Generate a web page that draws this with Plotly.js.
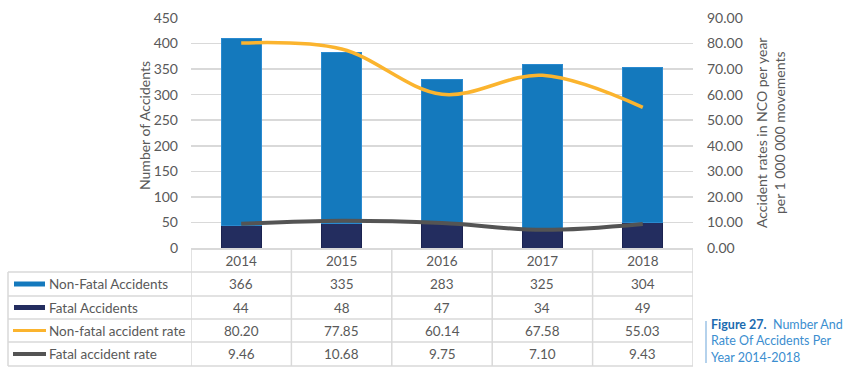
<!DOCTYPE html>
<html>
<head>
<meta charset="utf-8">
<script src="https://cdn.plot.ly/plotly-3.0.1.min.js"></script>
<style>html,body{margin:0;padding:0;background:#fff;}#chart{width:850px;height:373px;}</style>
</head>
<body>
<div id="chart"></div>
<script>
const years = ['2014', '2015', '2016', '2017', '2018'];
const nonFatal = [366, 335, 283, 325, 304];
const fatal = [44, 48, 47, 34, 49];
const nonFatalRate = [80.20, 77.85, 60.14, 67.58, 55.03];
const fatalRate = [9.46, 10.68, 9.75, 7.10, 9.43];
const seriesNames = ['Non-Fatal Accidents', 'Fatal Accidents', 'Non-fatal accident rate', 'Fatal accident rate'];

const W = 850, H = 373;
const px = x => x / W;
const py = y => 1 - y / H;

const cBlue = '#1479BD', cNavy = '#232D5F', cYellow = '#FBB42E', cGrey = '#545454';
const grid = '#D9D9D9';
const txt = '#595959';
const font = 'Lato, "Liberation Sans", sans-serif';

const traces = [
  {type: 'bar', x: years, y: fatal, name: seriesNames[1], marker: {color: cNavy, line: {color: '#1B2350', width: 1}}, width: 0.4, hoverinfo: 'none'},
  {type: 'bar', x: years, y: nonFatal, name: seriesNames[0], marker: {color: cBlue, line: {color: '#2A8AD0', width: 1}}, width: 0.4, hoverinfo: 'none'},
  {type: 'scatter', mode: 'lines', x: years, y: nonFatalRate, yaxis: 'y2', name: seriesNames[2], line: {color: cYellow, width: 3.5, shape: 'spline', smoothing: 1}, hoverinfo: 'none'},
  {type: 'scatter', mode: 'lines', x: years, y: fatalRate, yaxis: 'y2', name: seriesNames[3], line: {color: cGrey, width: 4, shape: 'spline', smoothing: 1}, hoverinfo: 'none'}
];

// table geometry (rows)
const headerTop = 248;
const rowLines = [272, 296, 319, 342, 366];
const rowCenters = [284, 307.5, 330.5, 354];
const tableLeft = 8;

const shapes = [];
const annotations = [];

rowLines.forEach(y => shapes.push({type: 'line', xref: 'paper', yref: 'paper', x0: px(tableLeft), x1: px(693), y0: py(y), y1: py(y), line: {color: grid, width: 1.5}}));
for (let i = 0; i <= years.length; i++) {
  shapes.push({type: 'line', xref: 'x', yref: 'paper', x0: i - 0.5, x1: i - 0.5, y0: py(headerTop), y1: py(366), line: {color: grid, width: 1.5}});
}
shapes.push({type: 'line', xref: 'paper', yref: 'paper', x0: px(tableLeft), x1: px(tableLeft), y0: py(272), y1: py(366), line: {color: grid, width: 1.5}});

// legend keys
const keyY = rowCenters;
shapes.push({type: 'rect', xref: 'paper', yref: 'paper', x0: px(14), x1: px(45), y0: py(keyY[0] - 2.5), y1: py(keyY[0] + 2.5), fillcolor: cBlue, line: {width: 0}});
shapes.push({type: 'rect', xref: 'paper', yref: 'paper', x0: px(14), x1: px(45), y0: py(keyY[1] - 2.5), y1: py(keyY[1] + 2.5), fillcolor: cNavy, line: {width: 0}});
shapes.push({type: 'line', xref: 'paper', yref: 'paper', x0: px(13), x1: px(46), y0: py(keyY[2]), y1: py(keyY[2]), line: {color: cYellow, width: 3}});
shapes.push({type: 'line', xref: 'paper', yref: 'paper', x0: px(13), x1: px(46), y0: py(keyY[3]), y1: py(keyY[3]), line: {color: cGrey, width: 4}});

const rows = [
  nonFatal.map(v => String(v)),
  fatal.map(v => String(v)),
  nonFatalRate.map(v => v.toFixed(2)),
  fatalRate.map(v => v.toFixed(2))
];
rows.forEach((vals, r) => {
  annotations.push({xref: 'paper', yref: 'paper', x: px(47), y: py(rowCenters[r]), xanchor: 'left', yanchor: 'middle', text: seriesNames[r], showarrow: false, font: {family: font, size: 13.5, color: txt}});
  vals.forEach((v, i) => {
    annotations.push({xref: 'x', yref: 'paper', x: years.indexOf(years[i]), y: py(rowCenters[r]), xanchor: 'center', yanchor: 'middle', text: v, showarrow: false, font: {family: font, size: 13.5, color: txt}});
  });
});

annotations.push({xref: 'paper', yref: 'paper', x: px(144), y: py(126), text: 'Number of Accidents', textangle: -90, showarrow: false, font: {family: font, size: 14, color: txt}, xanchor: 'center', yanchor: 'middle'});
annotations.push({xref: 'paper', yref: 'paper', x: px(770), y: py(133), text: 'Accident rates in NCO per year<br>per 1 000 000 movements', textangle: -90, showarrow: false, font: {family: font, size: 14, color: txt}, xanchor: 'center', yanchor: 'middle'});

shapes.push({type: 'line', xref: 'paper', yref: 'paper', x0: px(706), x1: px(706), y0: py(321), y1: py(363), line: {color: '#9DC3E6', width: 1.5}});
annotations.push({xref: 'paper', yref: 'paper', x: px(709), y: py(341), xanchor: 'left', yanchor: 'middle', align: 'left', showarrow: false,
  text: '<b><span style="color:#1C6BB0">Figure 27.</span></b>  Number And<br>Rate Of Accidents Per<br>Year 2014-2018',
  font: {family: font, size: 12.5, color: '#3B8ED0'}});

const layout = {
  width: W, height: H,
  margin: {l: 0, r: 0, t: 0, b: 0},
  paper_bgcolor: '#fff', plot_bgcolor: '#fff',
  showlegend: false,
  barmode: 'stack',
  xaxis: {domain: [px(191), px(693)], type: 'category', range: [-0.5, 4.5], showgrid: false, showline: true, linecolor: grid, linewidth: 1.5,
    ticks: '', tickfont: {family: font, size: 13.5, color: txt}, ticklabelstandoff: 0, fixedrange: true},
  yaxis: {domain: [py(248), py(18)], range: [0, 450], dtick: 50, showgrid: true, gridcolor: grid, gridwidth: 1.5, zeroline: false,
    ticks: '', tickfont: {family: font, size: 14, color: txt}, ticklabelstandoff: 12, fixedrange: true},
  yaxis2: {domain: [py(248), py(18)], overlaying: 'y', side: 'right', range: [0, 90], dtick: 10, tickformat: '.2f', showgrid: false, zeroline: false,
    ticks: '', tickfont: {family: font, size: 14, color: txt}, ticklabelstandoff: 13, fixedrange: true},
  shapes: shapes,
  annotations: annotations
};

Plotly.newPlot('chart', traces, layout, {displayModeBar: false, staticPlot: true});
</script>
</body>
</html>
